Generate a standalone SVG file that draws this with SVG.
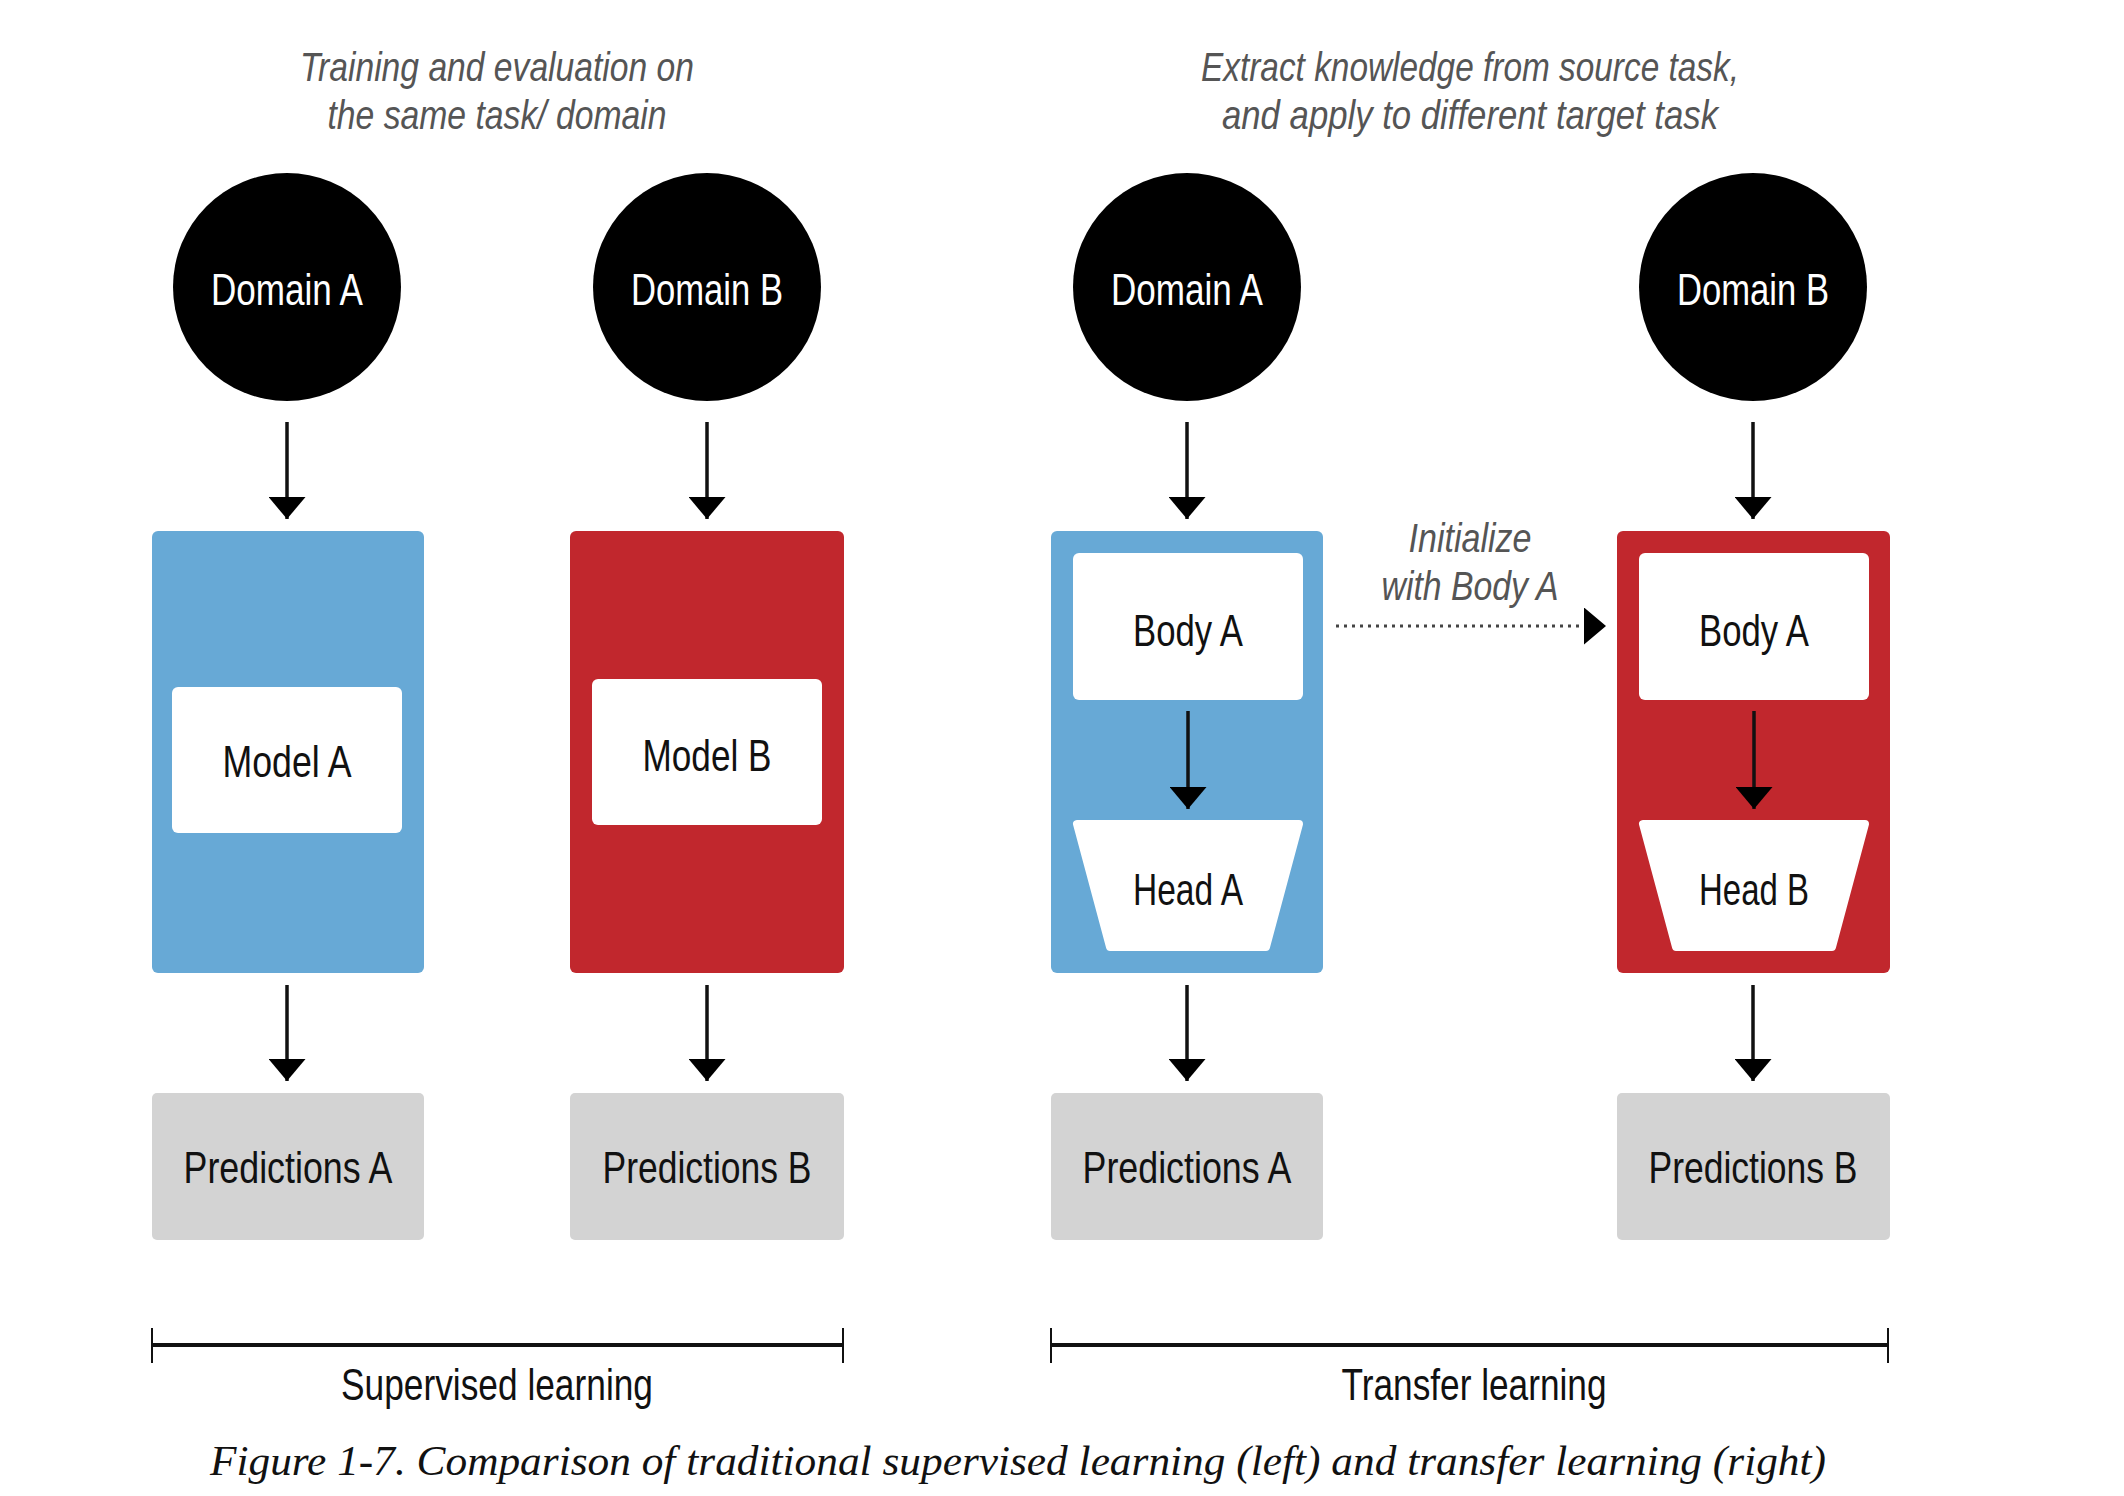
<svg xmlns="http://www.w3.org/2000/svg" width="2124" height="1496" viewBox="0 0 2124 1496">
<style>
.lbl{font-family:"Liberation Sans",Arial,sans-serif;font-size:44px;text-anchor:middle;fill:#111}
.wl{fill:#fff}
.cap{font-family:"Liberation Sans",Arial,sans-serif;font-style:italic;font-size:40px;text-anchor:middle;fill:#555}
.fig{font-family:"Liberation Serif","Times New Roman",serif;font-style:italic;font-size:42px;text-anchor:middle;fill:#111}
.blue{fill:#67a9d6}
.red{fill:#c1272d}
.gray{fill:#d3d3d3}
.white{fill:#fff}
.ln{stroke:#111;stroke-width:3.5;fill:none}
</style>
<defs>
<marker id="ah" viewBox="0 0 22 37" refX="22" refY="18.5" markerWidth="22" markerHeight="37" markerUnits="userSpaceOnUse" orient="auto">
<path d="M0,0 L22,18.5 L0,37 Z" fill="#000"/>
</marker>
</defs>
<rect width="2124" height="1496" fill="#fff"/>

<text class="cap" x="497" y="81" textLength="394" lengthAdjust="spacingAndGlyphs">Training and evaluation on</text>
<text class="cap" x="497" y="129" textLength="339" lengthAdjust="spacingAndGlyphs">the same task/ domain</text>
<text class="cap" x="1470" y="81" textLength="538" lengthAdjust="spacingAndGlyphs">Extract knowledge from source task,</text>
<text class="cap" x="1470" y="129" textLength="496" lengthAdjust="spacingAndGlyphs">and apply to  different target task</text>

<g id="domainA1"><circle cx="287" cy="287" r="114" fill="#000"/><text class="lbl wl" x="287" y="305" textLength="152" lengthAdjust="spacingAndGlyphs">Domain A</text></g>
<g id="domainB1"><circle cx="707" cy="287" r="114" fill="#000"/><text class="lbl wl" x="707" y="305" textLength="152" lengthAdjust="spacingAndGlyphs">Domain B</text></g>
<g id="domainA2"><circle cx="1187" cy="287" r="114" fill="#000"/><text class="lbl wl" x="1187" y="305" textLength="152" lengthAdjust="spacingAndGlyphs">Domain A</text></g>
<g id="domainB2"><circle cx="1753" cy="287" r="114" fill="#000"/><text class="lbl wl" x="1753" y="305" textLength="152" lengthAdjust="spacingAndGlyphs">Domain B</text></g>

<g id="modelA"><rect class="blue" x="152" y="531" width="272" height="442" rx="6"/>
<rect class="white" x="172" y="687" width="230" height="146" rx="6"/>
<text class="lbl" x="287" y="777" textLength="129" lengthAdjust="spacingAndGlyphs">Model A</text></g>
<g id="modelB"><rect class="red" x="570" y="531" width="274" height="442" rx="6"/>
<rect class="white" x="592" y="679" width="230" height="146" rx="6"/>
<text class="lbl" x="707" y="771" textLength="129" lengthAdjust="spacingAndGlyphs">Model B</text></g>

<g id="transferA"><rect class="blue" x="1051" y="531" width="272" height="442" rx="6"/>
<rect class="white" x="1073" y="553" width="230" height="147" rx="6"/>
<text class="lbl" x="1188" y="646" textLength="110" lengthAdjust="spacingAndGlyphs">Body A</text>
<path class="white" d="M1077,824 L1299,824 L1266,947 L1110,947 Z" stroke="#fff" stroke-width="8" stroke-linejoin="round"/>
<text class="lbl" x="1188" y="905" textLength="110" lengthAdjust="spacingAndGlyphs">Head A</text></g>
<g id="transferB"><rect class="red" x="1617" y="531" width="273" height="442" rx="6"/>
<rect class="white" x="1639" y="553" width="230" height="147" rx="6"/>
<text class="lbl" x="1754" y="646" textLength="110" lengthAdjust="spacingAndGlyphs">Body A</text>
<path class="white" d="M1643,824 L1865,824 L1832,947 L1676,947 Z" stroke="#fff" stroke-width="8" stroke-linejoin="round"/>
<text class="lbl" x="1754" y="905" textLength="110" lengthAdjust="spacingAndGlyphs">Head B</text></g>

<g id="predA1"><rect class="gray" x="152" y="1093" width="272" height="147" rx="5"/><text class="lbl" x="288" y="1183" textLength="209" lengthAdjust="spacingAndGlyphs">Predictions A</text></g>
<g id="predB1"><rect class="gray" x="570" y="1093" width="274" height="147" rx="5"/><text class="lbl" x="707" y="1183" textLength="209" lengthAdjust="spacingAndGlyphs">Predictions B</text></g>
<g id="predA2"><rect class="gray" x="1051" y="1093" width="272" height="147" rx="5"/><text class="lbl" x="1187" y="1183" textLength="209" lengthAdjust="spacingAndGlyphs">Predictions A</text></g>
<g id="predB2"><rect class="gray" x="1617" y="1093" width="273" height="147" rx="5"/><text class="lbl" x="1753" y="1183" textLength="209" lengthAdjust="spacingAndGlyphs">Predictions B</text></g>

<g id="connectors">
<line class="ln" x1="287" y1="422" x2="287" y2="519" marker-end="url(#ah)"/>
<line class="ln" x1="707" y1="422" x2="707" y2="519" marker-end="url(#ah)"/>
<line class="ln" x1="1187" y1="422" x2="1187" y2="519" marker-end="url(#ah)"/>
<line class="ln" x1="1753" y1="422" x2="1753" y2="519" marker-end="url(#ah)"/>
<line class="ln" x1="1188" y1="711" x2="1188" y2="809" marker-end="url(#ah)"/>
<line class="ln" x1="1754" y1="711" x2="1754" y2="809" marker-end="url(#ah)"/>
<line class="ln" x1="287" y1="985" x2="287" y2="1081" marker-end="url(#ah)"/>
<line class="ln" x1="707" y1="985" x2="707" y2="1081" marker-end="url(#ah)"/>
<line class="ln" x1="1187" y1="985" x2="1187" y2="1081" marker-end="url(#ah)"/>
<line class="ln" x1="1753" y1="985" x2="1753" y2="1081" marker-end="url(#ah)"/>
<line x1="1336" y1="626" x2="1606" y2="626" stroke="#444" stroke-width="3" stroke-dasharray="3 5" marker-end="url(#ah)"/>
</g>
<text class="cap" x="1470" y="552" textLength="123" lengthAdjust="spacingAndGlyphs">Initialize</text>
<text class="cap" x="1470" y="600" textLength="177" lengthAdjust="spacingAndGlyphs">with Body A</text>

<g id="brackets">
<line x1="152" y1="1345" x2="843" y2="1345" stroke="#111" stroke-width="4"/>
<line x1="152" y1="1328" x2="152" y2="1363" stroke="#111" stroke-width="2"/>
<line x1="843" y1="1328" x2="843" y2="1363" stroke="#111" stroke-width="2"/>
<line x1="1051" y1="1345" x2="1888" y2="1345" stroke="#111" stroke-width="4"/>
<line x1="1051" y1="1328" x2="1051" y2="1363" stroke="#111" stroke-width="2"/>
<line x1="1888" y1="1328" x2="1888" y2="1363" stroke="#111" stroke-width="2"/>
</g>
<text class="lbl" x="497" y="1400" font-size="40" textLength="312" lengthAdjust="spacingAndGlyphs">Supervised learning</text>
<text class="lbl" x="1474" y="1400" font-size="40" textLength="265" lengthAdjust="spacingAndGlyphs">Transfer learning</text>
<text class="fig" x="1018" y="1475" textLength="1616" lengthAdjust="spacingAndGlyphs">Figure 1-7. Comparison of traditional supervised learning (left) and transfer learning (right)</text>
</svg>
